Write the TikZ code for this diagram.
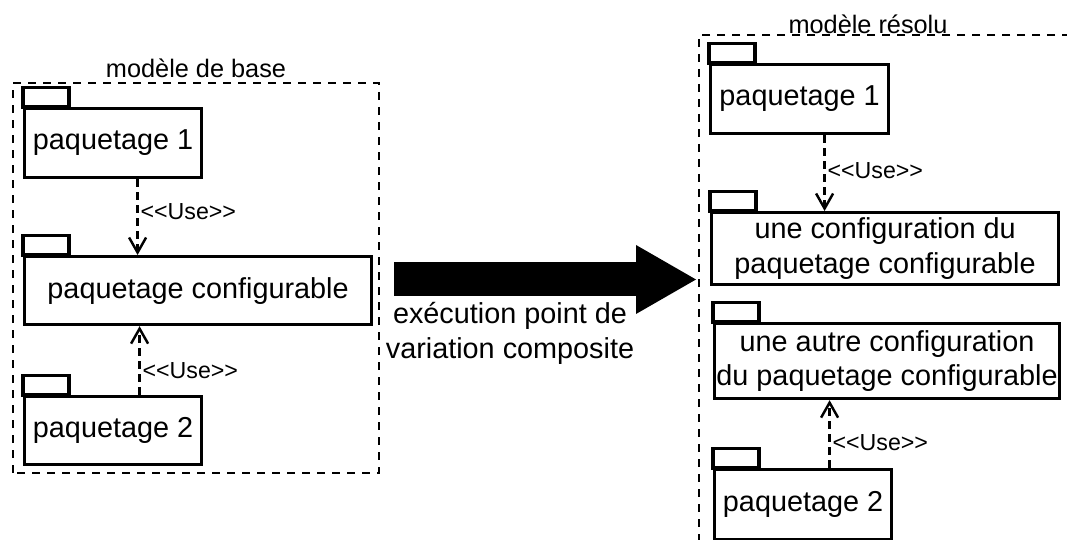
\documentclass[tikz,border=0pt]{standalone}
\usepackage{fontspec}
\setmainfont{Liberation Sans}
\usetikzlibrary{arrows.meta}

\newcommand{\usetag}{<\kern0pt<Use>\kern0pt>}

\begin{document}
\begin{tikzpicture}[
    font=\fontsize{16.4}{19.8}\selectfont,
    pkg/.style={draw, line width=1.8pt, anchor=north west, inner sep=0pt, align=center},
    pkgtab/.style={draw, line width=1.8pt},
    frame/.style={line width=1.6pt, dash pattern=on 0.16cm off 0.14cm},
    framelabel/.style={font=\fontsize{14.4}{17}\selectfont},
    usedep/.style={line width=1.4pt, dash pattern=on 0.16cm off 0.1cm, -{Straight Barb[length=0.3cm,width=0.34cm]}},
    uselabel/.style={right, inner sep=1pt, font=\fontsize{13.2}{15.6}\selectfont},
    transform/.style={line width=0.68cm, -{Triangle[length=1.2cm,width=1.38cm,line width=0pt]}}
  ]
  \useasboundingbox (0,0) rectangle (21.34,10.8);

  % --- Base model ---
  \draw[frame] (0.26,1.34) rectangle (7.58,9.14);
  \node[framelabel] (basetitle) at (3.92,9.43) {modèle de base};

  \node[pkg, minimum width=3.54cm, minimum height=1.38cm] (lp1) at (0.46,8.66) {paquetage 1};
  \node[pkg, minimum width=6.94cm, minimum height=1.36cm] (lcfg) at (0.46,5.7) {paquetage configurable};
  \node[pkg, minimum width=3.54cm, minimum height=1.36cm] (lp2) at (0.46,2.9) {paquetage 2};

  \draw[usedep] ([xshift=0.49cm]lp1.south) -- ([xshift=0.49cm]lp1.south |- lcfg.north)
    node[uselabel, pos=0.43] {\usetag};
  \draw[usedep] ([xshift=0.53cm]lp2.north) -- ([xshift=0.53cm]lp2.north |- lcfg.south)
    node[uselabel, pos=0.35] {\usetag};

  % --- Resolved model ---
  \draw[frame] (21.4,10.1) -- (13.98,10.1) -- (13.98,-0.1);
  \node[framelabel] (restitle) at (17.36,10.31) {modèle résolu};

  \node[pkg, minimum width=3.56cm, minimum height=1.38cm] (rp1) at (14.18,9.54) {paquetage 1};
  \node[pkg, minimum width=6.94cm, minimum height=1.44cm] (rcfg) at (14.2,6.58) {une configuration du\\paquetage configurable};
  \node[pkg, minimum width=6.9cm, minimum height=1.5cm] (rautre) at (14.26,4.36) {une autre configuration\\du paquetage configurable};
  \node[pkg, minimum width=3.54cm, minimum height=1.4cm] (rp2) at (14.26,1.44) {paquetage 2};

  \draw[usedep] ([xshift=0.5cm]rp1.south) -- ([xshift=0.5cm]rp1.south |- rcfg.north)
    node[uselabel, pos=0.47] {\usetag};
  \draw[usedep] ([xshift=0.53cm]rp2.north) -- ([xshift=0.53cm]rp2.north |- rautre.south)
    node[uselabel, pos=0.38] {\usetag};

  % --- Package tabs ---
  \foreach \n in {lp1,lcfg,lp2,rp1,rcfg,rautre,rp2}
    \draw[pkgtab] (\n.north west) rectangle ++(0.92,0.39);

  % --- Transformation ---
  \coordinate (tail) at (7.88,5.21);
  \coordinate (tip) at (13.92,5.21);
  \draw[transform] (tail) -- (tip);
  \node[align=center] (translabel) at (10.2,4.14) {exécution point de\\variation composite};

\end{tikzpicture}
\end{document}
